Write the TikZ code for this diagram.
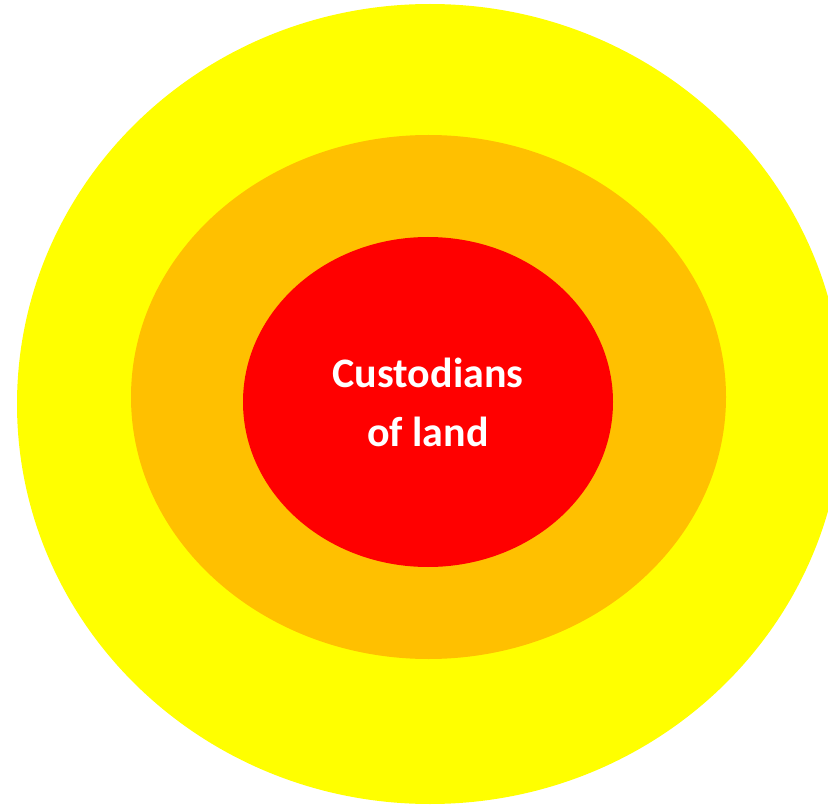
\documentclass[tikz,border=0pt]{standalone}
\usepackage{fontspec}
\setmainfont{Carlito}
\definecolor{outerring}{RGB}{255,255,0}
\definecolor{middlering}{RGB}{255,192,0}
\definecolor{innerring}{RGB}{255,0,0}
\begin{document}
\begin{tikzpicture}[x=1pt,y=-1pt,
  ring/.style={draw=none}]
\useasboundingbox (0,0) rectangle (828,805);
\begin{scope}
\clip (0,0) rectangle (828,805);
\fill[ring, fill=outerring] (430,404) ellipse [x radius=413, y radius=400];
\fill[ring, fill=middlering] (428.5,397) ellipse [x radius=297.5, y radius=262];
\fill[ring, fill=innerring] (428,402) ellipse [x radius=185, y radius=165];
\end{scope}
\node[text=white, font=\fontsize{42}{59}\selectfont\bfseries, align=center] (label) at (428,402) {Custodians\\of land};
\end{tikzpicture}
\end{document}
